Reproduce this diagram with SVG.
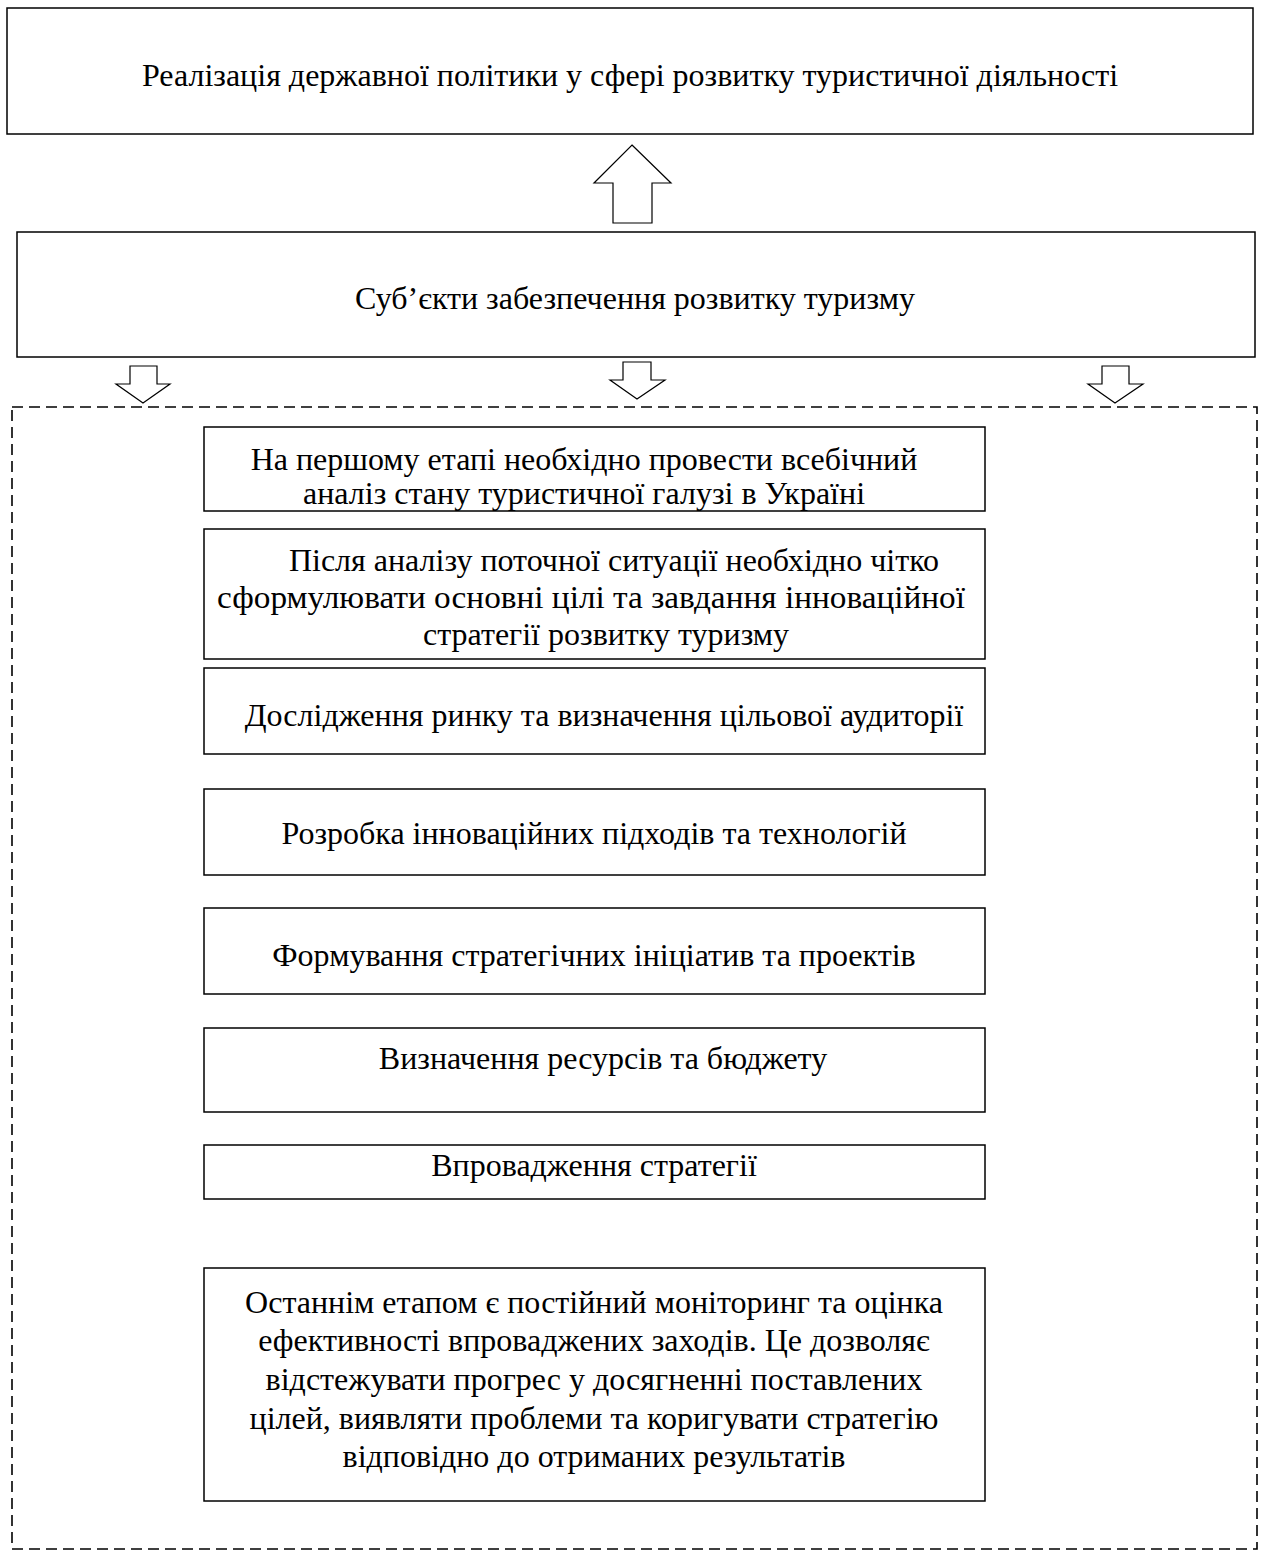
<svg xmlns="http://www.w3.org/2000/svg" width="1265" height="1552" viewBox="0 0 1265 1552">
<style>
.box{fill:#fff;stroke:#000;stroke-width:1.5}
.arr{fill:#fff;stroke:#000;stroke-width:1.2;stroke-linejoin:miter}
.dash{fill:none;stroke:#000;stroke-width:1.6;stroke-dasharray:11 6}
text{font-family:"Liberation Serif","Times New Roman",serif;font-size:32px;fill:#000;text-anchor:middle}
</style>
<rect width="1265" height="1552" fill="#fff"/>
<g id="container"><rect class="dash" x="12" y="407" width="1245" height="1142"/></g>
<g id="connectors">
<polygon class="arr" points="632,145 671,183 652,183 652,223 613,223 613,183 594,183"/>
<polygon class="arr" points="130,366 157,366 157,384 170,384 143,403 116,384 130,384"/>
<polygon class="arr" points="623,362 651,362 651,380 665,380 637,399 610,380 623,380"/>
<polygon class="arr" points="1102,366 1129,366 1129,384 1143,384 1115,403 1088,384 1102,384"/>
</g>
<g id="n-top"><rect class="box" x="7" y="8" width="1246" height="126"/><text x="630" y="86">Реалізація державної політики у сфері розвитку туристичної діяльності</text></g>
<g id="n-subjects"><rect class="box" x="17" y="232" width="1238" height="125"/><text x="635" y="309">Суб’єкти забезпечення розвитку туризму</text></g>
<g id="n1"><rect class="box" x="204" y="427" width="781" height="84"/><text x="584" y="470">На першому етапі необхідно провести всебічний</text><text x="584" y="504">аналіз стану туристичної галузі в Україні</text></g>
<g id="n2"><rect class="box" x="204" y="529" width="781" height="130"/><text x="614" y="571">Після аналізу поточної ситуації необхідно чітко</text><text x="591" y="608" textLength="748" lengthAdjust="spacingAndGlyphs">сформулювати основні цілі та завдання інноваційної</text><text x="606" y="645">стратегії розвитку туризму</text></g>
<g id="n3"><rect class="box" x="204" y="668" width="781" height="86"/><text x="604" y="726">Дослідження ринку та визначення цільової аудиторії</text></g>
<g id="n4"><rect class="box" x="204" y="789" width="781" height="86"/><text x="594" y="844">Розробка інноваційних підходів та технологій</text></g>
<g id="n5"><rect class="box" x="204" y="908" width="781" height="86"/><text x="594" y="966">Формування стратегічних ініціатив та проектів</text></g>
<g id="n6"><rect class="box" x="204" y="1028" width="781" height="84"/><text x="603" y="1069">Визначення ресурсів та бюджету</text></g>
<g id="n7"><rect class="box" x="204" y="1145" width="781" height="54"/><text x="594" y="1176">Впровадження стратегії</text></g>
<g id="n8"><rect class="box" x="204" y="1268" width="781" height="233"/>
<text x="594" y="1313">Останнім етапом є постійний моніторинг та оцінка</text>
<text x="594" y="1351">ефективності впроваджених заходів. Це дозволяє</text>
<text x="594" y="1390">відстежувати прогрес у досягненні поставлених</text>
<text x="594" y="1429">цілей, виявляти проблеми та коригувати стратегію</text>
<text x="594" y="1467">відповідно до отриманих результатів</text>
</g>
</svg>
